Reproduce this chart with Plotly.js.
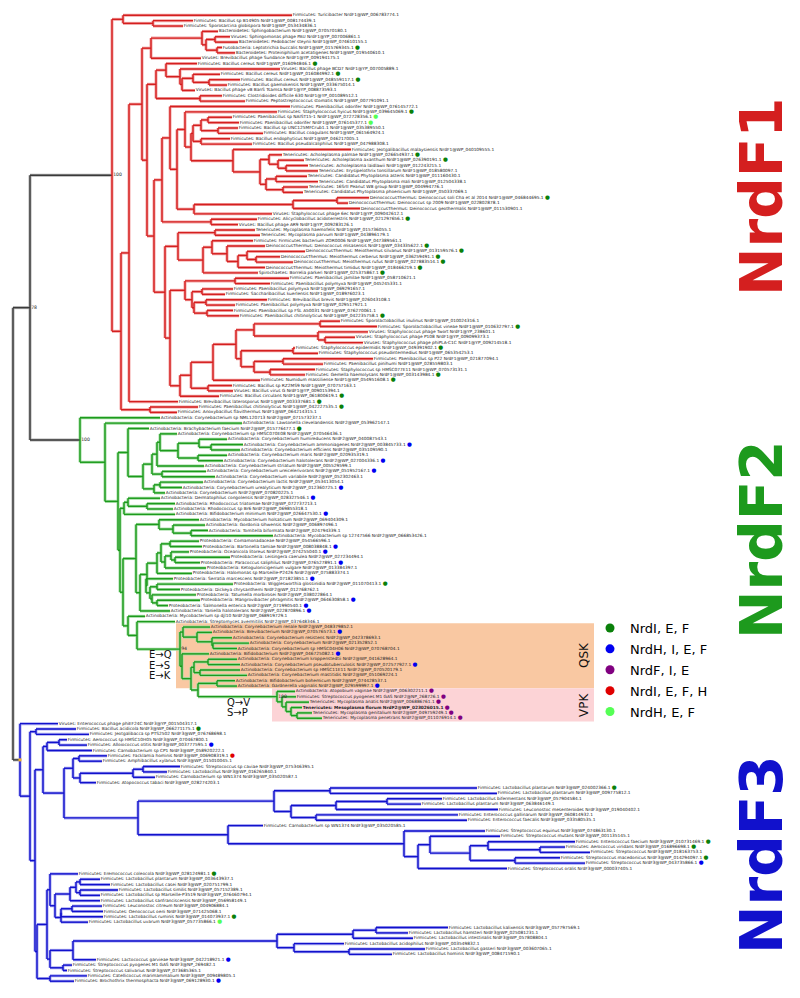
<!DOCTYPE html>
<html><head><meta charset="utf-8">
<script src="https://cdn.plot.ly/plotly-3.0.1.min.js"></script>
<style>html,body{margin:0;padding:0;background:#fff}#chart{width:800px;height:998px}</style>
</head><body><div id="chart"></div>
<script>
// ---------------- DATA ----------------
// Tree in Newick form; numbers after ':' are node distances (tree units, origin at left edge).
// Leaves are numbered in drawing order; internal labels are bootstrap supports, "Clade/support" marks a clade root.
const f1Top = "(1:292,(2:193,3:183):153):123";
const f1C4to9 = "((4:218,((5:230,6:238):215,(7:222,8:235):217):206):202,9:201):151";
const f1C10to17 = "((10:197,(11:280,((12:220,(13:240,14:227):209):193,15:195):182):180):166,(16:222,17:245):200):156";
const f1C20to25 = "(((20:232,21:239):208,(22:238,23:263):218):201,(24:230,25:252):201):193";
const f1C26to34 = "(26:351,((27:282,(28:304,(29:308,30:318):286):278):269,((31:307,32:318):276,(33:308,34:303):283):266):260):233";
const f1C35to38 = "(((35:369,36:348):337,37:360):293,38:272):194";
const f1C41to49 = "((41:255,42:260):215,((43:253,(44:265,((45:305,(46:280,47:293):256):247,48:265):238):227):212,49:258):203):178";
const f1C50to57 = "((50:289,51:270):235,((52:233,53:225):202,((54:267,55:235):206,(56:233,57:239):207):194):192):185";
const f1C58to62 = "((58:340,59:377):320,(60:368,(61:355,62:363):325):318):254";
const f1C63to68 = "((63:295,64:318):293,((65:373,66:323):283,(67:315,68:305):270):254):241";

const f2C79to90 = "((((79:177,((80:227,(81:243,82:240):211):199,(83:227,84:223):198):178):160,85:204):157,(86:206,87:215):162):152,((88:203,89:182):160,90:165):154):143";
const f2C91to94 = "((91:160,(92:175,93:173):147):128,94:175):124";
const f2C95to98 = "(95:199,(96:205,(97:208,98:273):191):173):159";
const f2C99to105 = "(((99:199,100:202):170,((101:189,(102:230,103:200):175):171,104:206):165):161,105:192):157";
const f2C106to111 = "(106:173,((107:233,108:180):157,(109:196,(110:200,111:168):157):152):150):146";
const f2QskA = "(115:210,(116:212,(117:232,(118:249,119:237):213):212):197):183";
const f2QskC = "((121:237,122:240):208,(123:240,124:247):200):194";
const f2Vpk = "(127:295,(128:296,(129:309,(130:302,(131:312,132:322):297):291):286):282)100:277";

const f3C136to138 = "((136:67,137:87):59,138:92):47";
const f3C139to144 = "((139:107,140:102):79,(((141:180,142:167):143,143:155):133,144:96):80):73";
const f3C145to151 = "((145:477,146:497):330,(((147:442,148:421):387,149:498):336,(150:458,151:467):316):291):274";
const f3C152to160 = "(152:263,(153:485,((154:500,((155:575,(156:565,157:590):540):488,(158:560,159:585):515):470):430,160:507):418):404):228";
const f3C161to170 = "(161:78,((((162:100,163:110):80,(164:118,165:100):80):76,166:100):70,(((167:102,168:103):72,169:103):61,170:88):61):55):50";
const f3C171to176 = "(((171:448,172:408):376,173:413):353,(174:344,(175:425,176:392):349):294):277";

const nrdf1Tree = "(" + f1Top + ",((("+ f1C4to9 + ",(" + f1C10to17 + ",(((18:290,((19:277,(" + f1C20to25 + "," + f1C26to34 + "):191):185," + f1C35to38 + "):177):170,(39:257,40:238):211):162,(" + f1C41to49 + ",(" + f1C50to57 + ",((((" + f1C58to62 + "," + f1C63to68 + "):236,69:260):213,(70:232,71:233):208):191,72:219):180):170):165):154):147):142,73:178):129,(74:198,75:177):150):121)NrdF1/100:112";
const nrdf2Tree = "(76:160,(77:242,((78:149," + f2C79to90 + "):128,(" + f2C91to94 + ",((" + f2C95to98 + ",((" + f2C99to105 + "," + f2C106to111 + "):147,112:170):140):136,(113:145,(114:175,(" + f2QskA + ",(120:209,(" + f2QskC + ",((125:235,126:237):217," + f2Vpk + "):198):191):182)94:180):137):128):123):120):118):105)NrdF2/100:80";
const nrdf3Tree = "(133:58,((134:76,135:89):36,((" + f3C136to138 + ",(" + f3C139to144 + ",(" + f3C145to151 + "," + f3C152to160 + "):138):64):43,((" + f3C161to170 + ",((" + f3C171to176 + ",177:96):73,(178:72,179:67):63):50):47,(180:87,181:74):50):37):35):30)NrdF3/:20";
const treeNewick = "((" + nrdf1Tree + "," + nrdf2Tree + ")78:30," + nrdf3Tree + "):13";

const leafNames = [
"Firmicutes: Turicibacter NrdF1@WP_006783774.1",
"Firmicutes: Bacillus sp B14905 NrdF1@WP_008174439.1",
"Firmicutes: Sporosarcina globispora NrdF1@WP_053434836.1",
"Bacteroidetes: Sphingobacterium NrdF1@WP_070570180.1",
"Viruses: Sphingomonas phage PAU NrdF1@YP_007006861.1",
"Bacteroidetes: Pedobacter steynii NrdF1@WP_074610155.1",
"Fusobacteria: Leptotrichia buccalis NrdF1@WP_015769345.1",
"Bacteroidetes: Proteiniphilum acetatigenes NrdF1@WP_019540610.1",
"Viruses: Brevibacillus phage Sundance NrdF1@YP_009194175.1",
"Firmicutes: Bacillus cereus NrdF1@WP_016094846.1",
"Viruses: Bacillus phage BCD7 NrdF1@YP_007005889.1",
"Firmicutes: Bacillus cereus NrdF1@WP_016084992.1",
"Firmicutes: Bacillus cereus NrdF1@WP_048559117.1",
"Firmicutes: Bacillus gaemokensis NrdF1@WP_033675014.1",
"Viruses: Bacillus phage vB BanS Tsamsa NrdF1@YP_008873593.1",
"Firmicutes: Clostridioides difficile 630 NrdF1@YP_001089512.1",
"Firmicutes: Peptostreptococcus stomatis NrdF1@WP_007791091.1",
"Firmicutes: Paenibacillus odorifer NrdF1@WP_076145772.1",
"Firmicutes: Staphylococcus hyicus NrdF1@WP_039645069.1",
"Firmicutes: Paenibacillus sp NAIST15-1 NrdF1@WP_072728356.1",
"Firmicutes: Paenibacillus odorifer NrdF1@WP_076145377.1",
"Firmicutes: Bacillus sp UNC125MFCrub1.1 NrdF1@WP_035389550.1",
"Firmicutes: Bacillus coagulans NrdF1@WP_061564924.1",
"Firmicutes: Bacillus endophyticus NrdF1@WP_046217005.1",
"Firmicutes: Bacillus pseudalcaliphilus NrdF1@WP_047988308.1",
"Firmicutes: Jeotgalibacillus malaysiensis NrdF1@WP_040109555.1",
"Tenericutes: Acholeplasma palmae NrdF1@WP_026654937.1",
"Tenericutes: Acholeplasma axanthum NrdF1@WP_026390191.1",
"Tenericutes: Acholeplasma laidlawii NrdF1@WP_012243215.1",
"Tenericutes: Erysipelothrix tonsillarum NrdF1@WP_018580097.1",
"Tenericutes: Candidatus Phytoplasma asteris NrdF1@WP_011160430.1",
"Tenericutes: Candidatus Phytoplasma mali NrdF1@WP_012504338.1",
"Tenericutes: 16SrII Peanut WB group NrdF1@WP_004994776.1",
"Tenericutes: Candidatus Phytoplasma phoenicium NrdF1@WP_050337069.1",
"DeinococcusThermus: Deinococcus soli Cha et al 2014 NrdF1@WP_046844695.1",
"DeinococcusThermus: Deinococcus sp 2009 NrdF1@WP_022802878.1",
"DeinococcusThermus: Deinococcus geothermalis NrdF1@WP_011530901.1",
"Viruses: Staphylococcus phage 6ec NrdF1@YP_009042612.1",
"Firmicutes: Alicyclobacillus acidoterrestris NrdF1@WP_021297656.1",
"Viruses: Bacillus phage AR9 NrdF1@YP_009283126.1",
"Tenericutes: Mycoplasma haemofelis NrdF1@WP_015736055.1",
"Tenericutes: Mycoplasma parvum NrdF1@WP_043896179.1",
"Firmicutes: Firmicutes bacterium ZOR0006 NrdF1@WP_047389561.1",
"DeinococcusThermus: Deinococcus misasensis NrdF1@WP_034335622.1",
"DeinococcusThermus: Meiothermus silvanus NrdF1@WP_013159576.1",
"DeinococcusThermus: Meiothermus cerberus NrdF1@WP_036259491.1",
"DeinococcusThermus: Meiothermus rufus NrdF1@WP_027883514.1",
"DeinococcusThermus: Meiothermus timidus NrdF1@WP_018466219.1",
"Spirochaetes: Borrelia parkeri NrdF1@WP_025375867.1",
"Firmicutes: Paenibacillus jamilae NrdF1@WP_058710621.1",
"Firmicutes: Paenibacillus polymyxa NrdF1@WP_045245331.1",
"Firmicutes: Paenibacillus polymyxa NrdF1@WP_069291657.1",
"Firmicutes: Saccharibacillus kuerlensis NrdF1@WP_018976023.1",
"Firmicutes: Brevibacillus brevis NrdF1@WP_026043108.1",
"Firmicutes: Paenibacillus polymyxa NrdF1@WP_029517921.1",
"Firmicutes: Paenibacillus sp FSL A50031 NrdF1@WP_076270061.1",
"Firmicutes: Paenibacillus chitinolyticus NrdF1@WP_042235758.1",
"Firmicutes: Sporolactobacillus inulinus NrdF1@WP_010024316.1",
"Firmicutes: Sporolactobacillus vineae NrdF1@WP_010632797.1",
"Viruses: Staphylococcus phage Twort NrdF1@YP_238601.1",
"Viruses: Staphylococcus phage P108 NrdF1@YP_009099373.1",
"Viruses: Staphylococcus phage phiPLA-C1C NrdF1@YP_009214518.1",
"Firmicutes: Staphylococcus epidermidis NrdF1@WP_049391902.1",
"Firmicutes: Staphylococcus pseudintermedius NrdF1@WP_065354253.1",
"Firmicutes: Paenibacillus sp P22 NrdF1@WP_021877094.1",
"Firmicutes: Paenibacillus pinihumi NrdF1@WP_028559803.1",
"Firmicutes: Staphylococcus sp HMSC077E11 NrdF1@WP_070573131.1",
"Firmicutes: Gemella haemolysans NrdF1@WP_003143984.1",
"Firmicutes: Numidum massiliense NrdF1@WP_054951608.1",
"Firmicutes: Bacillus sp RZ2MS9 NrdF1@WP_070757163.1",
"Viruses: Bacillus virus G NrdF1@YP_009015394.1",
"Firmicutes: Bacillus circulans NrdF1@WP_061800619.1",
"Firmicutes: Brevibacillus laterosporus NrdF1@WP_003337681.1",
"Firmicutes: Paenibacillus chitinolyticus NrdF1@WP_042227535.1",
"Firmicutes: Anoxybacillus flavithermus NrdF1@WP_064214315.1",
"Actinobacteria: Corynebacterium sp NML120713 NrdF2@WP_071573237.1",
"Actinobacteria: Lawsonella clevelandensis NrdF2@WP_053962147.1",
"Actinobacteria: Brachybacterium faecium NrdF2@WP_015776477.1",
"Actinobacteria: Corynebacterium sp HMSC070E08 NrdF2@WP_070546436.1",
"Actinobacteria: Corynebacterium humireducens NrdF2@WP_040087543.1",
"Actinobacteria: Corynebacterium ammoniagenes NrdF2@WP_003845733.1",
"Actinobacteria: Corynebacterium efficiens NrdF2@WP_035109590.1",
"Actinobacteria: Corynebacterium maris NrdF2@WP_020935319.1",
"Actinobacteria: Corynebacterium halotolerans NrdF2@WP_027004336.1",
"Actinobacteria: Corynebacterium striatum NrdF2@WP_005529599.1",
"Actinobacteria: Corynebacterium ureicelerivorans NrdF2@WP_051952167.1",
"Actinobacteria: Corynebacterium variabile NrdF2@WP_052302463.1",
"Actinobacteria: Corynebacterium lactis NrdF2@WP_053413054.1",
"Actinobacteria: Corynebacterium urealyticum NrdF2@WP_012360725.1",
"Actinobacteria: Corynebacterium NrdF2@WP_070820225.1",
"Actinobacteria: Dermatophilus congolensis NrdF2@WP_028327546.1",
"Actinobacteria: Rhodococcus triatomae NrdF2@WP_072737213.1",
"Actinobacteria: Rhodococcus sp Br6 NrdF2@WP_069855318.1",
"Actinobacteria: Bifidobacterium minimum NrdF2@WP_026647530.1",
"Actinobacteria: Mycobacterium holsaticum NrdF2@WP_069404309.1",
"Actinobacteria: Gordonia sihwensis NrdF2@WP_006897496.1",
"Actinobacteria: Tomitella biformata NrdF2@WP_024794339.1",
"Actinobacteria: Mycobacterium sp 12747566 NrdF2@WP_066853426.1",
"Proteobacteria: Comamonadaceae NrdF2@WP_054566596.1",
"Proteobacteria: Bartonella tamiae NrdF2@WP_008038848.1",
"Proteobacteria: Oceanicola litoreus NrdF2@WP_074255040.1",
"Proteobacteria: Leisingera caerulea NrdF2@WP_027234494.1",
"Proteobacteria: Paracoccus saliphilus NrdF2@WP_076527891.1",
"Proteobacteria: Ketogulonicigenium vulgare NrdF2@WP_013384397.1",
"Proteobacteria: Halomonas sp Marseille-P2426 NrdF2@WP_075883374.1",
"Proteobacteria: Serratia marcescens NrdF2@WP_071823851.1",
"Proteobacteria: Wigglesworthia glossinidia NrdF2@WP_011070413.1",
"Proteobacteria: Dickeya chrysanthemi NrdF2@WP_012768762.1",
"Proteobacteria: Tatumella morbirosei NrdF2@WP_038022864.1",
"Proteobacteria: Mangrovibacter phragmitis NrdF2@WP_064630858.1",
"Proteobacteria: Salmonella enterica NrdF2@WP_071990540.1",
"Actinobacteria: Yaniella halotolerans NrdF2@WP_022870896.1",
"Actinobacteria: Mycobacterium sp djl10 NrdF2@WP_068919729.1",
"Actinobacteria: Streptomyces avermitilis NrdF2@WP_037648346.1",
"Actinobacteria: Corynebacterium renale NrdF2@WP_048379852.1",
"Actinobacteria: Brevibacterium NrdF2@WP_070576573.1",
"Actinobacteria: Corynebacterium resistens NrdF2@WP_042378693.1",
"Actinobacteria: Corynebacterium NrdF2@WP_021352852.1",
"Actinobacteria: Corynebacterium sp HMSC04H06 NrdF2@WP_070768704.1",
"Actinobacteria: Bifidobacterium NrdF2@WP_046725082.1",
"Actinobacteria: Corynebacterium kroppenstedtii NrdF2@WP_041628964.1",
"Actinobacteria: Corynebacterium pseudotuberculosis NrdF2@WP_072577927.1",
"Actinobacteria: Corynebacterium sp HMSC11E11 NrdF2@WP_070520179.1",
"Actinobacteria: Corynebacterium mastitidis NrdF2@WP_051069224.1",
"Actinobacteria: Bifidobacterium bohemicum NrdF2@WP_074428537.1",
"Actinobacteria: Gardnerella vaginalis NrdF2@WP_029599997.1",
"Actinobacteria: Atopobium vaginae NrdF2@WP_006302211.1",
"Firmicutes: Streptococcus pyogenes M1 GAS NrdF2@NP_268726.1",
"Tenericutes: Mycoplasma anatis NrdF2@WP_006886761.1",
"<b>Tenericutes: Mesoplasma florum NrdF2@WP_023026015.1</b>",
"Tenericutes: Mycoplasma genitalium NrdF2@WP_049759249.1",
"Tenericutes: Mycoplasma penetrans NrdF2@WP_011076914.1",
"Viruses: Enterococcus phage phiEF24C NrdF3@YP_001504317.1",
"Firmicutes: Bacillus acidicola NrdF3@WP_066271175.1",
"Firmicutes: Jeotgalibacca sp PTS2502 NrdF3@WP_076768698.1",
"Firmicutes: Aerococcus sp HMSC10H05 NrdF3@WP_070467800.1",
"Firmicutes: Alloiococcus otitis NrdF3@WP_003777595.1",
"Firmicutes: Carnobacterium sp CP1 NrdF3@WP_058920222.1",
"Firmicutes: Facklamia hominis NrdF3@WP_006908319.1",
"Firmicutes: Amphibacillus xylanus NrdF3@WP_015010045.1",
"Firmicutes: Streptococcus sp caviae NrdF3@WP_075346395.1",
"Firmicutes: Lactobacillus NrdF3@WP_016265840.1",
"Firmicutes: Carnobacterium sp WN1374 NrdF3@WP_035020587.1",
"Firmicutes: Atopococcus tabaci NrdF3@WP_028274203.1",
"Firmicutes: Lactobacillus plantarum NrdF3@WP_024002366.1",
"Firmicutes: Lactobacillus plantarum NrdF3@WP_009775812.1",
"Firmicutes: Lactobacillus bifermentans NrdF3@WP_057904584.1",
"Firmicutes: Lactobacillus plantarum NrdF3@WP_063846149.1",
"Firmicutes: Leuconostoc mesenteroides NrdF3@WP_019040402.1",
"Firmicutes: Enterococcus gallinarum NrdF3@WP_060814932.1",
"Firmicutes: Enterococcus faecalis NrdF3@WP_033580535.1",
"Firmicutes: Carnobacterium sp WN1374 NrdF3@WP_035020585.1",
"Firmicutes: Streptococcus equinus NrdF3@WP_074863130.1",
"Firmicutes: Streptococcus mutans NrdF3@WP_001135145.1",
"Firmicutes: Enterococcus faecium NrdF3@WP_010731469.1",
"Firmicutes: Aerococcus viridans NrdF3@WP_016896698.1",
"Firmicutes: Streptococcus NrdF3@WP_018163753.1",
"Firmicutes: Streptococcus macedonicus NrdF3@WP_014294097.1",
"Firmicutes: Streptococcus NrdF3@WP_043735866.1",
"Firmicutes: Streptococcus oralis NrdF3@WP_000037405.1",
"Firmicutes: Eremococcus coleocola NrdF3@WP_028124981.1",
"Firmicutes: Lactobacillus plantarum NrdF3@WP_003643937.1",
"Firmicutes: Lactobacillus casei NrdF3@WP_020751799.1",
"Firmicutes: Lactobacillus similis NrdF3@WP_057152389.1",
"Firmicutes: Lactobacillus sp Marseille-P3519 NrdF3@WP_076460794.1",
"Firmicutes: Lactobacillus sanfranciscensis NrdF3@WP_056958149.1",
"Firmicutes: Leuconostoc citreum NrdF3@WP_004906884.1",
"Firmicutes: Oenococcus oeni NrdF3@WP_071425068.1",
"Firmicutes: Lactobacillus ruminis NrdF3@WP_014073937.1",
"Firmicutes: Lactobacillus uvarum NrdF3@WP_057735866.1",
"Firmicutes: Lactobacillus kalixensis NrdF3@WP_057797569.1",
"Firmicutes: Lactobacillus hamsteri NrdF3@WP_025081231.1",
"Firmicutes: Lactobacillus intestinalis NrdF3@WP_057808804.1",
"Firmicutes: Lactobacillus acidophilus NrdF3@WP_003549832.1",
"Firmicutes: Lactobacillus gasseri NrdF3@WP_003607065.1",
"Firmicutes: Lactobacillus hominis NrdF3@WP_008471590.1",
"Firmicutes: Lactococcus garvieae NrdF3@WP_042218921.1",
"Firmicutes: Streptococcus pyogenes M1 GAS NrdF3@NP_269482.1",
"Firmicutes: Streptococcus salivarius NrdF3@WP_073685365.1",
"Firmicutes: Catellicoccus marimammalium NrdF3@WP_009489805.1",
"Firmicutes: Brochothrix thermosphacta NrdF3@WP_069128930.1"
];
// operon code per leaf (g,b,p,r,l) or '.' for none
const leafDots = ("......g..g" + ".gg.....gl" + "l.....gg.." + "....g...g." + "...gggggg." +
  "......g.g." + "..g....gg." + ".ggg...g.." + "b..b.b..b." + "b..b.....b" +
  "b.b..bg..b" + "bb...b...b" + ".b...bpppp" + "pp.g..b.r." + "....g....." +
  "....gg.gb." + "g.......gl" + "......b...b").split("");
const operonCodes = ["g", "b", "p", "r", "l"];
const operonNames = ["NrdI, E, F", "NrdH, I, E, F", "NrdF, I, E", "NrdI, E, F, H", "NrdH, E, F"];
const operonColors = ["#0a800a", "#0000f0", "#800080", "#e00000", "#55ff55"];
const cladeNames = ["NrdF1", "NrdF2", "NrdF3"];
const cladeColors = ["#d41f1f", "#1d9a1d", "#1111cc"];

// ---------------- TREE LAYOUT ----------------
function parseNewick(s) {
  let i = 0;
  function node() {
    const n = { children: [] };
    if (s[i] === "(") {
      i++;
      n.children.push(node());
      while (s[i] === ",") { i++; n.children.push(node()); }
      i++;
    }
    let name = "";
    while (i < s.length && ":,();".indexOf(s[i]) < 0) name += s[i++];
    n.name = name;
    if (s[i] === ":") {
      i++; let v = "";
      while (i < s.length && ",();".indexOf(s[i]) < 0) v += s[i++];
      n.depth = parseFloat(v);
    }
    return n;
  }
  return node();
}
const root = parseNewick(treeNewick);
let leafCounter = 0;
const leaves = [], supports = [];
let nrdf3Root = null;
function walk(n, col) {
  n.col = col; n.cladeRoot = false;
  if (n.children.length) {
    if (n.name.indexOf("/") >= 0) {
      const p = n.name.split("/"); n.col = p[0]; n.cladeRoot = true; n.support = p[1];
      if (p[0] === "NrdF3") nrdf3Root = n;
    } else n.support = n.name;
    n.children.forEach(c => walk(c, n.col));
    n.y = (n.children[0].y + n.children[n.children.length - 1].y) / 2;
    if (n.support) supports.push(n);
  } else {
    leafCounter++; n.y = leafCounter; n.id = parseInt(n.name, 10); leaves.push(n);
  }
}
walk(root, "root");

const segs = {};
function addSeg(col, x0, y0, x1, y1) {
  if (!segs[col]) segs[col] = { x: [], y: [] };
  segs[col].x.push(x0, x1, null); segs[col].y.push(y0, y1, null);
}
function collect(n, parent) {
  if (parent) addSeg(n.cladeRoot ? parent.col : n.col, parent.depth, n.y, n.depth, n.y);
  if (n.children.length) {
    addSeg(n.col, n.depth, n.children[0].y, n.depth, n.children[n.children.length - 1].y);
    n.children.forEach(c => collect(c, n));
  }
}
collect(root, null);

const palette = { root: ["#3a3a3a", "#b0b0b0"] };
cladeNames.forEach((c, k) => {
  palette[c] = [cladeColors[k], ["#f3a3a3", "#9fdc9f", "#a8a8f2"][k]];
});

const traces = [];
Object.keys(segs).forEach(c => {
  traces.push({ x: segs[c].x, y: segs[c].y, mode: "lines", line: { color: palette[c][1], width: 3 }, hoverinfo: "skip", showlegend: false });
});
Object.keys(segs).forEach(c => {
  traces.push({ x: segs[c].x, y: segs[c].y, mode: "lines", line: { color: palette[c][0], width: 1.4 }, hoverinfo: "skip", showlegend: false });
});

const dotColor = {}; operonCodes.forEach((c, k) => dotColor[c] = operonColors[k]);
traces.push({
  x: leaves.map(l => l.depth + 0.8), y: leaves.map(l => l.y), mode: "text",
  text: leaves.map(l => {
    const code = leafDots[l.id - 1];
    return leafNames[l.id - 1] + (code && code !== "." ? ' <span style="color:' + dotColor[code] + ';font-size:5.6px">●</span>' : "");
  }),
  textposition: "middle right", textfont: { family: "DejaVu Sans", size: 4.3, color: "#222" },
  hoverinfo: "skip", showlegend: false, cliponaxis: false
});
traces.push({
  x: supports.map(n => n.depth + 1.2), y: supports.map(n => n.y), mode: "text",
  text: supports.map(n => n.support), textposition: "middle right",
  textfont: { family: "DejaVu Sans", size: 4.6, color: "#222" }, hoverinfo: "skip", showlegend: false, cliponaxis: false
});
if (nrdf3Root) traces.push({ x: [nrdf3Root.depth], y: [nrdf3Root.y], mode: "markers",
  marker: { symbol: "square", size: 3, color: "#f0b030" }, hoverinfo: "skip", showlegend: false });

operonCodes.forEach((c, k) => traces.push({
  x: [null], y: [null], mode: "markers", name: operonNames[k], legendgroup: "g" + k,
  marker: { color: operonColors[k], size: 9 }, showlegend: true, hoverinfo: "skip"
}));

const W = 800, H = 998;
const px = v => v / W, py = v => 1 - v / H;
const ann = [];
const bigLabelY = [197, 540, 855];
cladeNames.forEach((c, k) => ann.push({ text: "<b>" + c + "</b>", x: px(762), y: py(bigLabelY[k]), xref: "paper", yref: "paper",
  xanchor: "center", yanchor: "middle", textangle: -90, showarrow: false,
  font: { family: "DejaVu Sans", size: 58, color: cladeColors[k] } }));
[["E→Q", 147, 654], ["E→S", 147, 665], ["E→K", 147, 675], ["Q→V", 225, 702], ["S→P", 225, 712]].forEach(t =>
  ann.push({ text: t[0], x: px(t[1]), y: py(t[2]), xref: "paper", yref: "paper", xanchor: "left", yanchor: "middle",
    showarrow: false, font: { family: "DejaVu Sans", size: 10, color: "#111" } }));
[["QSK", 655], ["VPK", 705]].forEach(t => ann.push({ text: t[0], x: px(584), y: py(t[1]), xref: "paper", yref: "paper",
  xanchor: "center", yanchor: "middle", textangle: -90, showarrow: false, font: { family: "DejaVu Sans", size: 12, color: "#111" } }));

const shapes = [
  { type: "rect", xref: "x", yref: "y", x0: 176, x1: 594, y0: 114.3, y1: 126.4, fillcolor: "#f9c8a2", line: { width: 0 }, layer: "below" },
  { type: "rect", xref: "x", yref: "y", x0: 272, x1: 594, y0: 126.4, y1: 132.6, fillcolor: "#fcd3d6", line: { width: 0 }, layer: "below" }
];

const layout = {
  width: W, height: H, margin: { l: 0, r: 0, t: 0, b: 0 }, paper_bgcolor: "#fff", plot_bgcolor: "#fff",
  xaxis: { range: [0, 800], visible: false, fixedrange: true },
  yaxis: { range: [184.13, -1.851], visible: false, fixedrange: true },
  showlegend: true,
  legend: { x: px(590), y: py(613), xanchor: "left", yanchor: "top", bgcolor: "rgba(0,0,0,0)",
    font: { family: "DejaVu Sans", size: 13, color: "#000" }, traceorder: "grouped", tracegroupgap: 1 },
  annotations: ann, shapes: shapes
};
Plotly.newPlot("chart", traces, layout, { displayModeBar: false, staticPlot: true });
</script></body></html>
